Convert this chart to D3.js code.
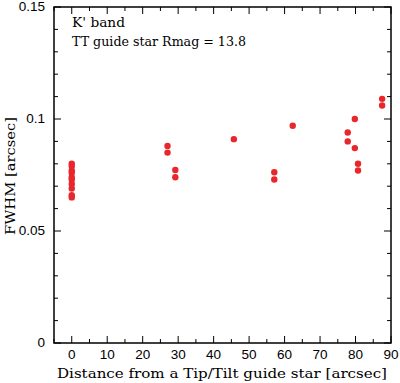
<!DOCTYPE html>
<html>
<head>
<meta charset="utf-8">
<script src="https://cdn.jsdelivr.net/npm/d3@7"></script>
<style>
  body { margin: 0; background: #fff; }
  svg { display: block; }
  .lbl { font-family: "DejaVu Serif", serif; font-size: 13.5px; }
  .tick { font-family: "Liberation Sans", Arial, sans-serif; font-size: 13.5px; }
</style>
</head>
<body>
<div id="view"></div>
<script>
var distance = [0, 0, 0, 0, 0, 0, 0, 0, 0, 0,
    27, 27, 29.2, 29.2, 45.7, 57.1, 57.1, 62.3,
    77.8, 77.8, 79.8, 79.8, 80.7, 80.7, 87.5, 87.5];
var fwhm = [0.080, 0.079, 0.077, 0.076, 0.074, 0.073, 0.071, 0.069, 0.066, 0.065,
    0.088, 0.085, 0.0772, 0.074, 0.091, 0.0762, 0.073, 0.097,
    0.094, 0.090, 0.100, 0.087, 0.080, 0.077, 0.109, 0.106];
var xTicks = [0, 10, 20, 30, 40, 50, 60, 70, 80, 90];
var yTicks = [0, 0.05, 0.1, 0.15];
var yTickLabels = ['0', '0.05', '0.1', '0.15'];
var notes = ["K' band", 'TT guide star Rmag = 13.8'];
var noteWidths = [53, 174];

var W = 400, H = 383;
var m = {left: 54, right: 9, top: 7, bottom: 40};

var svg = d3.select('#view').append('svg')
    .attr('width', W)
    .attr('height', H);

var x = d3.scaleLinear().domain([-5, 90]).range([m.left, W - m.right]);
var y = d3.scaleLinear().domain([0, 0.15]).range([H - m.bottom, m.top]);

var x0 = x.range()[0], x1 = x.range()[1];
var y0 = y.range()[0], y1 = y.range()[1];

// ticks on all four sides, pointing inward
var xMinor = d3.range(-5, 91, 5);
var yMinor = d3.range(0, 0.1501, 0.01);
var g = svg.append('g').attr('stroke', '#000').attr('stroke-width', 1);
xMinor.forEach(v => {
    var len = xTicks.indexOf(Math.round(v)) > -1 ? 7 : 4;
    g.append('line').attr('x1', x(v)).attr('x2', x(v)).attr('y1', y0).attr('y2', y0 - len);
    g.append('line').attr('x1', x(v)).attr('x2', x(v)).attr('y1', y1).attr('y2', y1 + len);
});
yMinor.forEach(v => {
    var major = Math.abs(v / 0.05 - Math.round(v / 0.05)) < 1e-6;
    var len = major ? 7 : 4;
    g.append('line').attr('y1', y(v)).attr('y2', y(v)).attr('x1', x0).attr('x2', x0 + len);
    g.append('line').attr('y1', y(v)).attr('y2', y(v)).attr('x1', x1).attr('x2', x1 - len);
});

svg.append('rect')
    .attr('x', x0).attr('y', y1)
    .attr('width', x1 - x0).attr('height', y0 - y1)
    .attr('fill', 'none').attr('stroke', '#000').attr('stroke-width', 1.5);

svg.selectAll('text.xt')
    .data(xTicks)
    .enter()
    .append('text')
    .attr('class', 'tick xt')
    .attr('x', d => x(d))
    .attr('y', y0 + 16)
    .attr('text-anchor', 'middle')
    .text(d => d);

svg.selectAll('text.yt')
    .data(yTicks)
    .enter()
    .append('text')
    .attr('class', 'tick yt')
    .attr('x', x0 - 9)
    .attr('y', d => y(d) + 4)
    .attr('text-anchor', 'end')
    .text((d, i) => yTickLabels[i]);

svg.append('text')
    .attr('class', 'lbl')
    .attr('x', 57)
    .attr('y', H - 5)
    .attr('textLength', 330)
    .attr('lengthAdjust', 'spacingAndGlyphs')
    .text('Distance from a Tip/Tilt guide star [arcsec]');

svg.append('text')
    .attr('class', 'lbl')
    .attr('transform', 'translate(15, 235) rotate(-90)')
    .attr('textLength', 118)
    .attr('lengthAdjust', 'spacingAndGlyphs')
    .text('FWHM [arcsec]');

svg.selectAll('text.note')
    .data(notes)
    .enter()
    .append('text')
    .attr('class', 'lbl note')
    .attr('x', x0 + 18)
    .attr('y', (d, i) => y1 + 20 + i * 19)
    .attr('textLength', (d, i) => noteWidths[i])
    .attr('lengthAdjust', 'spacingAndGlyphs')
    .text(d => d);

svg.selectAll('circle.pt')
    .data(distance)
    .enter()
    .append('circle')
    .attr('class', 'pt')
    .attr('cx', d => x(d))
    .attr('cy', (d, i) => y(fwhm[i]))
    .attr('r', 3.2)
    .attr('fill', '#e8262b');
</script>
</body>
</html>
